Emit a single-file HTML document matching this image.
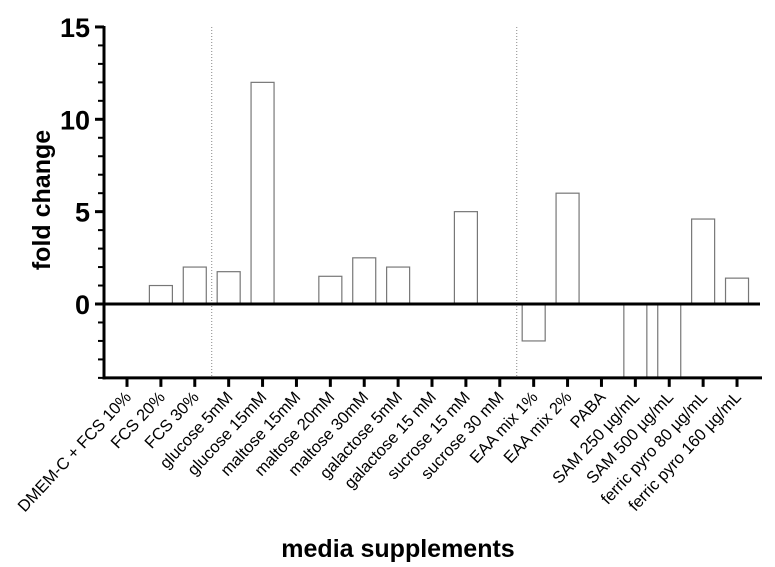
<!DOCTYPE html>
<html><head><meta charset="utf-8"><style>
body{margin:0;background:#fff;}
svg{display:block;font-family:"Liberation Sans",Arial,sans-serif;}
</style></head><body>
<svg id="chart" width="775" height="567"></svg>
<script>
const categories=["DMEM-C + FCS 10%","FCS 20%","FCS 30%","glucose 5mM","glucose 15mM","maltose 15mM","maltose 20mM","maltose 30mM","galactose 5mM","galactose 15 mM","sucrose 15 mM","sucrose 30 mM","EAA mix 1%","EAA mix 2%","PABA","SAM 250 µg/mL","SAM 500 µg/mL","ferric pyro 80 µg/mL","ferric pyro 160 µg/mL"];
const values=[0,1.0,2.0,1.75,12.0,0,1.5,2.5,2.0,0,5.0,0,-2.0,6.0,0,-4,-4,4.6,1.4];
const yTicks=[0,5,10,15];
const separators=[2.5,11.5];
const NS="http://www.w3.org/2000/svg";
const svg=document.getElementById('chart');
const y0=304,unit=18.47,yMin=-4;
function y(v){return y0-v*unit;}
function x(i){return 127+33.89*i;}
function mk(tag,attrs,parent){const e=document.createElementNS(NS,tag);for(const k in attrs)e.setAttribute(k,attrs[k]);(parent||svg).appendChild(e);return e;}
separators.forEach(s=>{
 const l=mk('line',{x1:x(s),x2:x(s),y1:y(15),y2:y(yMin),stroke:'#888','stroke-width':1,'stroke-dasharray':'1,2'});
 
 
});
values.forEach((v,i)=>{
 if(v===0)return;
 const vv=Math.max(v,yMin);
 const top=Math.min(y(vv),y0),h=Math.abs(y(vv)-y0);
 const r=mk('rect',{x:x(i)-11.5,y:top,width:23,height:h,fill:'#fff',stroke:'#777','stroke-width':1.2});
 
 
});
const z=mk('line',{x1:104,x2:760,y1:y0,y2:y0,stroke:'#000','stroke-width':3});


const ya=mk('line',{x1:104,x2:104,y1:y(15)-1,y2:y(yMin)+1.5,stroke:'#000','stroke-width':3});


for(let v=yMin;v<=15;v++){
 const major=yTicks.includes(v);
 const t=mk('line',{x1:major?95:98,x2:104,y1:y(v),y2:y(v),stroke:'#000','stroke-width':major?3:2});
 
 
}
yTicks.forEach(v=>{
 const t=mk('text',{x:90,y:y(v)+10,'text-anchor':'end','font-size':27,'font-weight':'bold'});
 t.textContent=v;
 
 
});
const xa=mk('line',{x1:102.5,x2:762,y1:y(yMin),y2:y(yMin),stroke:'#000','stroke-width':3});


categories.forEach((c,i)=>{
 const t=mk('line',{x1:x(i),x2:x(i),y1:y(yMin),y2:y(yMin)+9,stroke:'#000','stroke-width':3});
 
 
 const tx=x(i)+5,ty=y(yMin)+20;
 const l=mk('text',{x:tx,y:ty,'text-anchor':'end','font-size':16.5,transform:`rotate(-47 ${tx} ${ty})`});
 l.textContent=c;
 
 
});
const xt=mk('text',{x:398,y:557,'text-anchor':'middle','font-size':25,'font-weight':'bold'});
xt.textContent='media supplements';


const yt=mk('text',{x:50,y:200,'text-anchor':'middle','font-size':25,'font-weight':'bold',transform:'rotate(-90 50 200)'});
yt.textContent='fold change';


</script>
</body></html>
